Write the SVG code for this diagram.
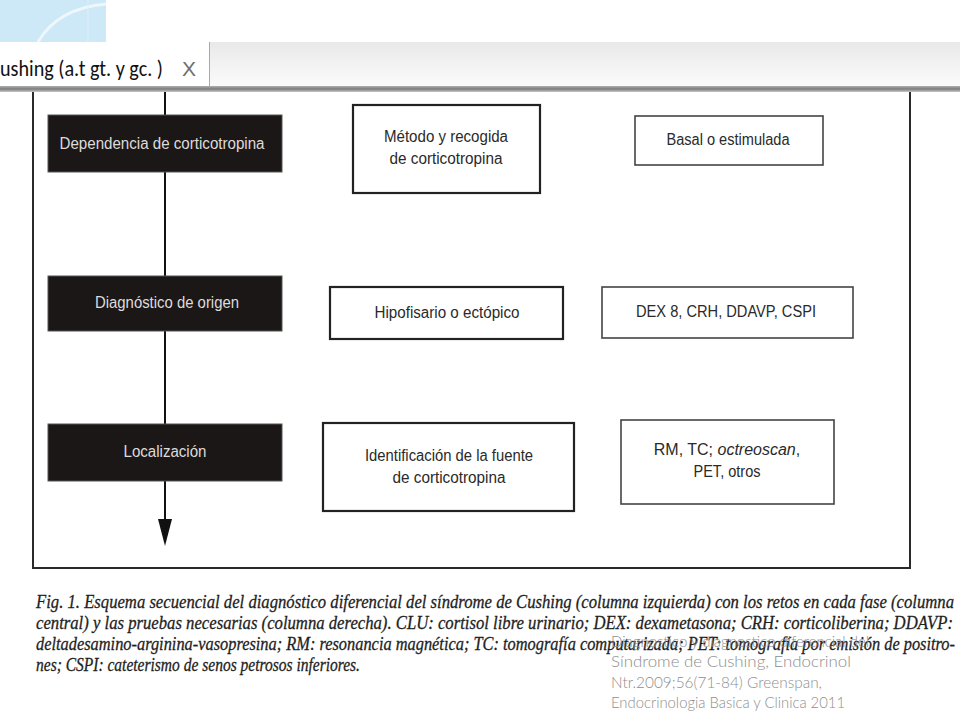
<svg xmlns="http://www.w3.org/2000/svg" width="960" height="720" viewBox="0 0 960 720">
<defs>
<linearGradient id="bar" x1="0" y1="0" x2="0" y2="1">
<stop offset="0" stop-color="#e9e9e9"/>
<stop offset="1" stop-color="#fbfbfb"/>
</linearGradient>
<linearGradient id="line" x1="0" y1="0" x2="0" y2="1">
<stop offset="0" stop-color="#b0b0b0"/>
<stop offset="0.5" stop-color="#7d7d7d"/>
<stop offset="1" stop-color="#c8c8c8"/>
</linearGradient>
<style>
.blk{fill:#1c1717;stroke:#555;stroke-width:1}
.mid{fill:#fff;stroke:#222;stroke-width:2.2}
.rgt{fill:#fff;stroke:#444;stroke-width:1.6}
.bt{font-family:"Liberation Sans Narrow","Liberation Sans",Arial,sans-serif;font-size:16px;fill:#dcdcdc;text-anchor:middle}
.wt{font-family:"Liberation Sans Narrow","Liberation Sans",Arial,sans-serif;font-size:16px;fill:#2a2a2a;text-anchor:middle}
.cap{font-family:"Liberation Serif","Times New Roman",serif;font-style:italic;font-size:19px;fill:#1e1e1e;stroke:#1e1e1e;stroke-width:0.3}
.ov{font-family:Lato,"Open Sans",sans-serif;font-weight:300;font-size:15px;fill:#8e8e8e}
</style>
</defs>
<rect width="960" height="720" fill="#fff"/>
<g id="header">
<rect x="0" y="0" width="106" height="42" fill="#cde8f6"/>
<path d="M38 42 Q58 8 106 4" fill="none" stroke="#eef7fc" stroke-width="3"/>
<line x1="88" y1="0" x2="88" y2="42" stroke="#def0fa" stroke-width="1"/>
<rect x="209" y="42" width="751" height="45" fill="url(#bar)"/>
<line x1="209.5" y1="42" x2="209.5" y2="87" stroke="#a8a8a8" stroke-width="1"/>
<rect x="0" y="86" width="960" height="6" fill="url(#line)"/>
<text x="0" y="76" font-family="Carlito,'Liberation Sans',sans-serif" font-size="23" fill="#111" textLength="163" lengthAdjust="spacingAndGlyphs">ushing (a.t gt. y gc. )</text>
<text x="182" y="76" font-family="'Liberation Sans',sans-serif" font-size="21" fill="#6f6f6f">X</text>
</g>
<g id="frame">
<path d="M33 92 V568 H910 V92" fill="none" stroke="#2a2a2a" stroke-width="2"/>
</g>
<g id="connectors">
<line x1="165" y1="92" x2="165" y2="522" stroke="#111" stroke-width="2"/>
<polygon points="158,519 172,519 165,546" fill="#111"/>
</g>
<g id="n1">
<rect class="blk" x="48" y="115" width="234" height="57"/>
<text class="bt" x="162" y="149" textLength="205" lengthAdjust="spacingAndGlyphs">Dependencia de corticotropina</text>
</g>
<g id="n2">
<rect class="mid" x="353" y="105" width="187" height="88"/>
<text class="wt" x="446" y="142" textLength="124" lengthAdjust="spacingAndGlyphs">Método y recogida</text>
<text class="wt" x="446" y="164" textLength="113" lengthAdjust="spacingAndGlyphs">de corticotropina</text>
</g>
<g id="n3">
<rect class="rgt" x="635" y="116" width="188" height="49"/>
<text class="wt" x="728" y="145" textLength="123" lengthAdjust="spacingAndGlyphs">Basal o estimulada</text>
</g>
<g id="n4">
<rect class="blk" x="48" y="276" width="234" height="55"/>
<text class="bt" x="167" y="308" textLength="144" lengthAdjust="spacingAndGlyphs">Diagnóstico de origen</text>
</g>
<g id="n5">
<rect class="mid" x="330" y="287" width="233" height="52"/>
<text class="wt" x="447" y="318" textLength="145" lengthAdjust="spacingAndGlyphs">Hipofisario o ectópico</text>
</g>
<g id="n6">
<rect class="rgt" x="602" y="287" width="251" height="51"/>
<text class="wt" x="726" y="317" textLength="180" lengthAdjust="spacingAndGlyphs">DEX 8, CRH, DDAVP, CSPI</text>
</g>
<g id="n7">
<rect class="blk" x="48" y="424" width="234" height="57"/>
<text class="bt" x="165" y="457" textLength="83" lengthAdjust="spacingAndGlyphs">Localización</text>
</g>
<g id="n8">
<rect class="mid" x="323" y="423" width="251" height="88"/>
<text class="wt" x="449" y="461" textLength="168" lengthAdjust="spacingAndGlyphs">Identificación de la fuente</text>
<text class="wt" x="449" y="483" textLength="113" lengthAdjust="spacingAndGlyphs">de corticotropina</text>
</g>
<g id="n9">
<rect class="rgt" x="621" y="420" width="213" height="84"/>
<text class="wt" x="727" y="455">RM, TC; <tspan font-style="italic">octreoscan</tspan>,</text>
<text class="wt" x="727" y="477" textLength="67" lengthAdjust="spacingAndGlyphs">PET, otros</text>
</g>
<g id="caption">
<text class="cap" x="36" y="608" textLength="918" lengthAdjust="spacingAndGlyphs">Fig. 1. Esquema secuencial del diagnóstico diferencial del síndrome de Cushing (columna izquierda) con los retos en cada fase (columna</text>
<text class="cap" x="36" y="629" textLength="917" lengthAdjust="spacingAndGlyphs">central) y las pruebas necesarias (columna derecha). CLU: cortisol libre urinario; DEX: dexametasona; CRH: corticoliberina; DDAVP:</text>
<text class="cap" x="36" y="650" textLength="919" lengthAdjust="spacingAndGlyphs">deltadesamino-arginina-vasopresina; RM: resonancia magnética; TC: tomografía computarizada; PET: tomografía por emisión de positro-</text>
<text class="cap" x="36" y="671" textLength="324" lengthAdjust="spacingAndGlyphs">nes; CSPI: cateterismo de senos petrosos inferiores.</text>
</g>
<g id="source">
<text class="ov" x="611" y="647" textLength="258" lengthAdjust="spacingAndGlyphs">Diagnostico y diagnostico diferencial del</text>
<text class="ov" x="611" y="667" textLength="240" lengthAdjust="spacingAndGlyphs">Síndrome de Cushing, Endocrinol</text>
<text class="ov" x="611" y="688" textLength="211" lengthAdjust="spacingAndGlyphs">Ntr.2009;56(71-84) Greenspan,</text>
<text class="ov" x="611" y="708" textLength="234" lengthAdjust="spacingAndGlyphs">Endocrinologia Basica y Clinica 2011</text>
</g>
</svg>
